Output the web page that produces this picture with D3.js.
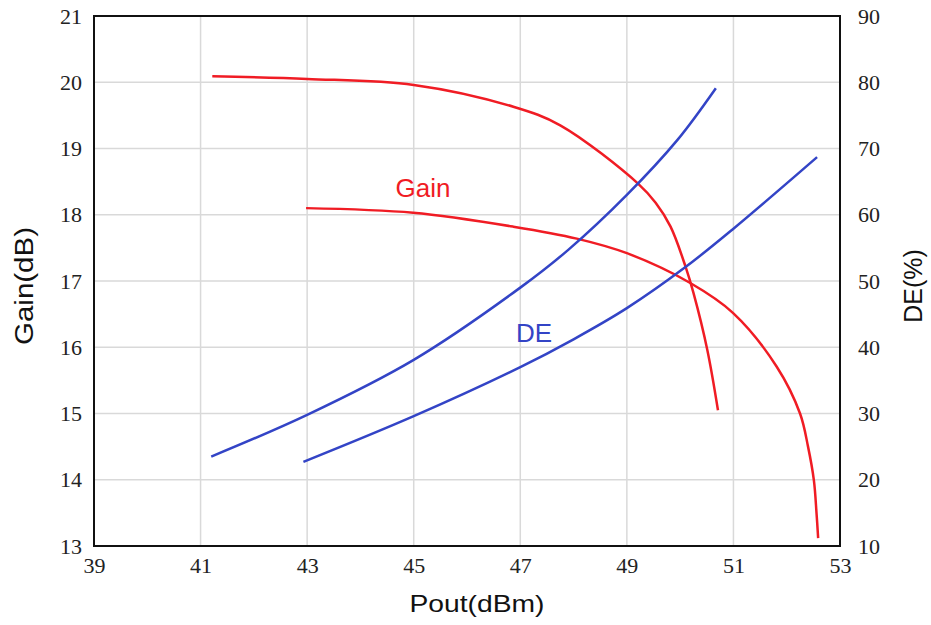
<!DOCTYPE html>
<meta charset="utf-8" />
<style>
  body { margin: 0; background: #fff; }
</style>
<svg width="931" height="625"></svg>
<script src="https://d3js.org/d3.v7.min.js"></script>
<script>
    // values: [Pout dBm, value]
    var gainHigh = [[41.22, 20.09], [43, 20.05], [45, 19.96], [46.87, 19.63], [47.75, 19.35], [49.21, 18.47],
                    [49.54, 18.18], [49.82, 17.82], [50.1, 17.22], [50.25, 16.82], [50.51, 15.96], [50.71, 15.05]];
    var gainLow = [[42.98, 18.10], [44.99, 18.03], [46.87, 17.82], [48.06, 17.64], [49.0, 17.42], [50.19, 16.97],
                   [50.99, 16.52], [51.81, 15.71], [52.25, 15.0], [52.4, 14.5], [52.51, 13.99], [52.56, 13.49], [52.59, 13.12]];
    var deHigh = [[41.2, 23.5], [43, 29.8], [45, 38.1], [47, 49.0], [47.9, 54.7], [49.0, 63.0], [49.95, 71.3], [50.67, 79.1]];
    var deLow = [[42.93, 22.7], [45, 29.6], [47, 37.0], [48, 41.2], [49.0, 45.9], [50.1, 52.1], [51.0, 57.9], [52.57, 68.7]];

    var xTicks = [39, 41, 43, 45, 47, 49, 51, 53];
    var gainTicks = [13, 14, 15, 16, 17, 18, 19, 20, 21];
    var deTicks = [10, 20, 30, 40, 50, 60, 70, 80, 90];

    var red = "#f01c24";
    var blue = "#3344c6";

    var svg = d3.select("svg");
    var pLeft = 94, pTop = 16, pRight = 840, pBottom = 546;

    var x = d3.scaleLinear().domain([39, 53]).range([pLeft, pRight]);
    var yGain = d3.scaleLinear().domain([13, 21]).range([pBottom, pTop]);
    var yDE = d3.scaleLinear().domain([10, 90]).range([pBottom, pTop]);

    // grid
    var grid = svg.append("g").attr("stroke", "#d9d9d9").attr("stroke-width", 1.5);
    grid.selectAll(".vx")
        .data(xTicks.slice(1, -1))
        .enter()
        .append("line")
        .attr("x1", function(d) { return x(d); })
        .attr("x2", function(d) { return x(d); })
        .attr("y1", pTop)
        .attr("y2", pBottom);
    grid.selectAll(".hy")
        .data(gainTicks.slice(1, -1))
        .enter()
        .append("line")
        .attr("x1", pLeft)
        .attr("x2", pRight)
        .attr("y1", function(d) { return yGain(d); })
        .attr("y2", function(d) { return yGain(d); });

    // tick labels via axes, no tick marks
    function styleAxis(g) {
        g.select(".domain").remove();
        g.selectAll(".tick line").remove();
        g.selectAll("text")
            .attr("font-family", "'Liberation Serif', 'Times New Roman', serif")
            .attr("font-size", 22)
            .attr("fill", "#222");
    }

    svg.append("g")
        .attr("transform", "translate(0," + pBottom + ")")
        .call(d3.axisBottom(x).tickValues(xTicks).tickSize(0).tickPadding(11).tickFormat(d3.format("d")))
        .call(styleAxis);

    svg.append("g")
        .attr("transform", "translate(" + pLeft + ",0)")
        .call(d3.axisLeft(yGain).tickValues(gainTicks).tickSize(0).tickPadding(12).tickFormat(d3.format("d")))
        .call(styleAxis);

    svg.append("g")
        .attr("transform", "translate(" + pRight + ",0)")
        .call(d3.axisRight(yDE).tickValues(deTicks).tickSize(0).tickPadding(18).tickFormat(d3.format("d")))
        .call(styleAxis);

    // curves
    var gainLine = d3.line()
        .x(function(d) { return x(d[0]); })
        .y(function(d) { return yGain(d[1]); })
        .curve(d3.curveCatmullRom.alpha(0.5));
    var deLine = d3.line()
        .x(function(d) { return x(d[0]); })
        .y(function(d) { return yDE(d[1]); })
        .curve(d3.curveCatmullRom.alpha(0.5));

    [gainHigh, gainLow].forEach(function(s) {
        svg.append("path").datum(s).attr("d", gainLine)
            .attr("fill", "none").attr("stroke", red).attr("stroke-width", 2.5);
    });
    [deHigh, deLow].forEach(function(s) {
        svg.append("path").datum(s).attr("d", deLine)
            .attr("fill", "none").attr("stroke", blue).attr("stroke-width", 2.5);
    });

    // frame
    svg.append("rect")
        .attr("x", pLeft).attr("y", pTop)
        .attr("width", pRight - pLeft).attr("height", pBottom - pTop)
        .attr("fill", "none").attr("stroke", "#111").attr("stroke-width", 2);

    // labels
    var sans = "'Liberation Sans', Arial, sans-serif";
    svg.append("text").text("Gain")
        .attr("x", 423).attr("y", 197)
        .attr("text-anchor", "middle").attr("font-family", sans).attr("font-size", 26).attr("fill", red);
    svg.append("text").text("DE")
        .attr("x", 534).attr("y", 342)
        .attr("text-anchor", "middle").attr("font-family", sans).attr("font-size", 26).attr("fill", blue);

    svg.append("text").text("Pout(dBm)")
        .attr("x", 477).attr("y", 612)
        .attr("text-anchor", "middle").attr("font-family", sans).attr("font-size", 24)
        .attr("textLength", 135).attr("lengthAdjust", "spacingAndGlyphs").attr("fill", "#111");

    svg.append("text").text("Gain(dB)")
        .attr("transform", "translate(33,286) rotate(-90)")
        .attr("text-anchor", "middle").attr("font-family", sans).attr("font-size", 25)
        .attr("textLength", 118).attr("lengthAdjust", "spacingAndGlyphs").attr("fill", "#111");

    svg.append("text").text("DE(%)")
        .attr("transform", "translate(922,286) rotate(-90)")
        .attr("text-anchor", "middle").attr("font-family", sans).attr("font-size", 25)
        .attr("fill", "#111");
</script>
